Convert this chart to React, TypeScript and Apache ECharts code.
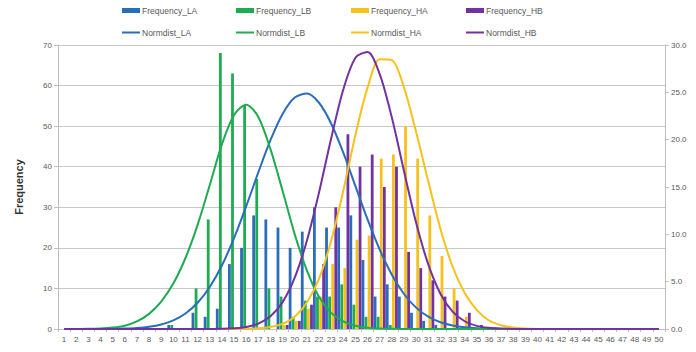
import { useEffect, useRef } from 'react';
import * as echarts from 'echarts';

const categories = ['1','2','3','4','5','6','7','8','9','10','11','12','13','14','15','16','17','18','19','20','21','22','23','24','25','26','27','28','29','30','31','32','33','34','35','36','37','38','39','40','41','42','43','44','45','46','47','48','49','50'];

const freqLA = [0,0,0,0,0,0,0,0,0,1,0,4,3,5,16,20,28,27,25,20,24,30,25,25,28,17,8,11,8,4,2,1,0,0,0,0,0,0,0,0,0,0,0,0,0,0,0,0,0,0];
const freqLB = [0,0,0,0,0,0,0,0,0,1,0,10,27,68,63,55,37,10,8,3,7,8,8,11,6,3,3,1,0,0,0,0,0,0,0,0,0,0,0,0,0,0,0,0,0,0,0,0,0,0];
const freqHA = [0,0,0,0,0,0,0,0,0,0,0,0,0,0,0,0,0,0,1,2,5,8,16,15,22,23,42,43,50,42,28,18,10,3,0,0,0,0,0,0,0,0,0,0,0,0,0,0,0,0];
const freqHB = [0,0,0,0,0,0,0,0,0,0,0,0,0,0,0,0,0,0,1,2,6,16,30,48,40,43,35,40,19,15,12,8,7,4,1,0,0,0,0,0,0,0,0,0,0,0,0,0,0,0];

const normLA = [0,0,0,0.01,0.02,0.05,0.11,0.24,0.48,0.91,1.64,2.77,4.44,6.71,9.6,12.96,16.54,19.94,22.72,24.45,24.87,23.9,21.71,18.63,15.1,11.57,8.38,5.73,3.7,2.26,1.3,0.71,0.37,0.18,0.08,0.04,0.01,0,0,0,0,0,0,0,0,0,0,0,0,0];
const normLB = [0,0.01,0.02,0.06,0.15,0.35,0.8,1.6,2.9,4.8,7.5,11.0,15.2,19.5,22.6,23.7,22.4,19.0,14.6,10.0,6.2,3.4,1.7,0.8,0.35,0.14,0.05,0.02,0,0,0,0,0,0,0,0,0,0,0,0,0,0,0,0,0,0,0,0,0,0];
const normHA = [0,0,0,0,0,0,0,0,0,0,0,0,0,0,0.01,0.03,0.07,0.2,0.55,1.3,2.8,5.3,9.3,14.6,20.5,25.5,28.5,28.4,25.5,20.8,15.6,10.6,6.6,3.8,2.0,0.9,0.4,0.15,0.05,0.01,0,0,0,0,0,0,0,0,0,0];
const normHB = [0,0,0,0,0,0,0,0,0,0,0,0,0.01,0.02,0.08,0.22,0.57,1.34,2.84,5.42,9.32,14.42,20.12,25.3,28.66,29.26,26.92,22.33,16.68,11.23,6.82,3.73,1.84,0.82,0.33,0.12,0.04,0.01,0,0,0,0,0,0,0,0,0,0,0,0];

const leftTicks = [0, 70, 10];
const rightTicks = [0, 30, 5];

const COLORS = { LA: '#2a6db8', LB: '#1fab50', HA: '#f5c21b', HB: '#7232a2' };
const FONT = 'Liberation Sans, Arial, sans-serif';
const GREY = '#595959';

export default function App() {
  const ref = useRef<HTMLDivElement>(null);
  useEffect(() => {
    const chart = echarts.init(ref.current!, null, { renderer: 'svg' });
    const barSeries = (name: string, data: number[], color: string) => ({
      name,
      type: 'bar',
      data,
      barWidth: 2.8,
      barGap: '10%',
      itemStyle: { color },
      z: 2,
    });
    const lineSeries = (name: string, data: number[], color: string) => ({
      name,
      type: 'line',
      yAxisIndex: 1,
      data,
      smooth: 0.3,
      symbol: 'none',
      lineStyle: { color, width: 2 },
      itemStyle: { color },
      z: 3,
    });
    const legendAt = (name: string, left: number, top: number, isBar: boolean) => ({
      data: [name],
      left,
      top: isBar ? top : top + 4,
      padding: 0,
      itemWidth: 18,
      itemHeight: isBar ? 5 : 2,
      icon: 'rect',
      textStyle: { fontSize: 8.5, color: GREY, fontFamily: FONT, padding: [0, 0, 0, -3] },
    });
    const cols = [122, 236, 351, 466];
    chart.setOption({
      animation: false,
      textStyle: { fontFamily: FONT },
      legend: [
        legendAt('Frequency_LA', cols[0], 6, true),
        legendAt('Frequency_LB', cols[1], 6, true),
        legendAt('Frequency_HA', cols[2], 6, true),
        legendAt('Frequency_HB', cols[3], 6, true),
        legendAt('Normdist_LA', cols[0], 24, false),
        legendAt('Normdist_LB', cols[1], 24, false),
        legendAt('Normdist_HA', cols[2], 24, false),
        legendAt('Normdist_HB', cols[3], 24, false),
      ],
      grid: { left: 58, right: 31, top: 45, bottom: 23 },
      xAxis: {
        type: 'category',
        data: categories,
        boundaryGap: true,
        axisLine: { lineStyle: { color: '#bfbfbf' } },
        axisTick: { show: true, length: 3, lineStyle: { color: '#bfbfbf' } },
        axisLabel: { interval: 0, fontSize: 8, color: GREY, fontFamily: FONT, margin: 6 },
      },
      yAxis: [
        {
          type: 'value',
          min: leftTicks[0],
          max: leftTicks[1],
          interval: leftTicks[2],
          name: 'Frequency',
          nameLocation: 'middle',
          nameGap: 34,
          nameTextStyle: { fontSize: 11, fontWeight: 'bold', color: '#333', fontFamily: FONT },
          axisLine: { show: true, lineStyle: { color: '#bfbfbf' } },
          axisTick: { show: true, length: 4, lineStyle: { color: '#bfbfbf' } },
          axisLabel: { fontSize: 8, color: GREY, fontFamily: FONT, margin: 6 },
          splitLine: { lineStyle: { color: '#c8c8c8', width: 1 } },
        },
        {
          type: 'value',
          min: rightTicks[0],
          max: rightTicks[1],
          interval: rightTicks[2],
          position: 'right',
          axisLine: { show: true, lineStyle: { color: '#bfbfbf' } },
          axisTick: { show: true, length: 4, lineStyle: { color: '#bfbfbf' } },
          axisLabel: { fontSize: 8, color: GREY, fontFamily: FONT, margin: 6, formatter: (v: number) => v.toFixed(1) },
          splitLine: { show: false },
        },
      ],
      series: [
        barSeries('Frequency_LA', freqLA, COLORS.LA),
        barSeries('Frequency_LB', freqLB, COLORS.LB),
        barSeries('Frequency_HA', freqHA, COLORS.HA),
        barSeries('Frequency_HB', freqHB, COLORS.HB),
        lineSeries('Normdist_LA', normLA, COLORS.LA),
        lineSeries('Normdist_LB', normLB, COLORS.LB),
        lineSeries('Normdist_HA', normHA, COLORS.HA),
        lineSeries('Normdist_HB', normHB, COLORS.HB),
      ],
    });
    return () => chart.dispose();
  }, []);
  return <div ref={ref} style={{ position: 'fixed', left: 0, top: 0, width: 696, height: 352, background: '#fff' }} />;
}
